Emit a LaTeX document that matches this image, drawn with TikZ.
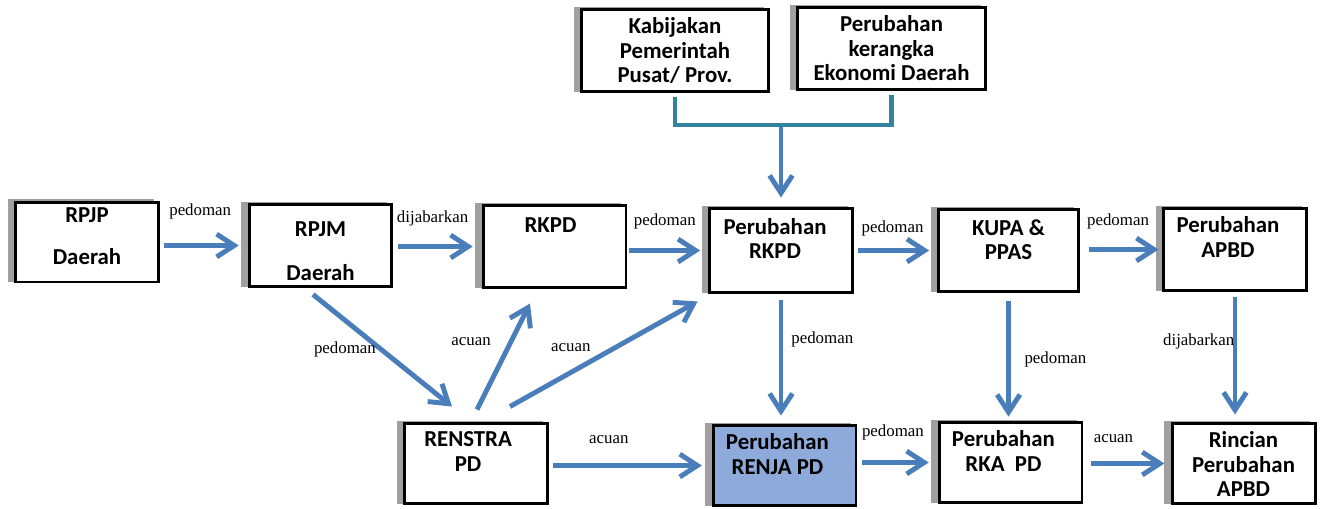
\documentclass[tikz,border=0pt]{standalone}
\usepackage{fontspec}
\setmainfont{Liberation Serif}
\newfontfamily\boxfont{Carlito}
\usetikzlibrary{arrows.meta}
\usetikzlibrary{positioning}
\usetikzlibrary{calc}
\usetikzlibrary{shadows}

\definecolor{arrowblue}{RGB}{74,126,187}
\definecolor{bracketteal}{RGB}{49,132,155}
\definecolor{renjafill}{RGB}{142,170,219}
\definecolor{bargray}{RGB}{160,160,160}

\tikzset{
  box/.style={draw, line width=1.7pt, fill=white, inner sep=0pt,
    minimum width=2.86cm, minimum height=1.64cm,
    drop shadow={shadow xshift=-3.6pt, shadow yshift=0.6pt, fill=bargray, draw=bargray, opacity=1}},
  txt/.style={anchor=north, yshift=-5.4pt, inner sep=0pt, align=center,
    font=\boxfont\bfseries\fontsize{13}{13.8}\selectfont},
  lbl/.style={inner sep=0pt, font=\fontsize{9.6}{11}\selectfont},
  arr/.style={draw=arrowblue, line width=2.8pt, -{Straight Barb[length=10pt,width=13pt]}},
  bracket/.style={draw=bracketteal, line width=2.8pt},
}

\begin{document}
\begin{tikzpicture}[x=0.02cm, y=-0.02cm]
  \useasboundingbox (0,0) rectangle (1324,508);

  % top row
  \node[box, minimum width=3.74cm, label={[txt]north:Kabijakan\\Pemerintah\\Pusat/ Prov.}] (kebijakan) at (675,50.5) {};
  \node[box, minimum width=3.76cm, label={[txt]north:Perubahan\\kerangka\\Ekonomi Daerah}] (kerangka) at (891.5,48.5) {};

  % middle row
  \node[box, minimum height=1.6cm, label={[txt, yshift=1.8pt]north:RPJP\\[10.5pt]Daerah}] (rpjp) at (87,242) {};
  \node[box, label={[txt, yshift=-5pt]north:RPJM\\[11.2pt]Daerah}] (rpjm) at (320.5,245.5) {};
  \node[box, label={[txt, yshift=-2pt, xshift=-2.3pt]north:RKPD}] (rkpd) at (554.5,246.5) {};
  \node[box, minimum height=1.68cm, label={[txt, yshift=-0.8pt, xshift=-3.4pt]north:Perubahan\\RKPD}] (prkpd) at (781,250.5) {};
  \node[box, minimum width=2.8cm, label={[txt, yshift=-0.8pt]north:KUPA \&\\PPAS}] (kupa) at (1008.5,250.5) {};
  \node[box, label={[txt, xshift=-4pt]north:Perubahan\\APBD}] (papbd) at (1235,249.5) {};

  % bottom row
  \node[box, minimum height=1.6cm, label={[txt, xshift=-4.5pt]north:RENSTRA\\PD}] (renstra) at (476,463.5) {};
  \node[box, minimum height=1.6cm, fill=renjafill, label={[txt, xshift=-4pt]north:Perubahan\\RENJA PD}] (renja) at (784.5,465.5) {};
  \node[box, minimum height=1.6cm, label={[txt, xshift=-4pt]north:Perubahan\\RKA~ PD}] (rka) at (1010.5,462.5) {};
  \node[box, minimum height=1.6cm, label={[txt]north:Rincian\\Perubahan\\APBD}] (rincian) at (1243.5,463.5) {};

  % bracket from the two top boxes
  \coordinate (merge) at (prkpd.north |- 0,125);
  \draw[bracket] ([yshift=-2.5pt]kebijakan.south) |- (merge) -| ([yshift=-2.5pt]kerangka.south);
  \draw[arr, shorten <=1.4pt, shorten >=5.4pt] (merge) -- (prkpd.north);

  % horizontal arrows
  \draw[arr, shorten <=2.5pt, shorten >=5pt] (rpjp.east |- rpjm.west) -- (rpjm.west)
    node[lbl, midway, xshift=-2pt, yshift=19.3pt] {pedoman};
  \draw[arr, shorten <=2.5pt, shorten >=5pt] (rpjm.east |- rkpd.west) -- (rkpd.west)
    node[lbl, midway, xshift=-2.8pt, yshift=15.9pt] {dijabarkan};
  \draw[arr, shorten <=1pt, shorten >=4.5pt] (rkpd.east |- prkpd.west) -- (prkpd.west)
    node[lbl, midway, xshift=-1.7pt, yshift=16.4pt] {pedoman};
  \draw[arr, shorten <=2.5pt, shorten >=4.5pt] (prkpd.east |- kupa.west) -- (kupa.west)
    node[lbl, midway, xshift=-1.7pt, yshift=12.5pt] {pedoman};
  \draw[arr, shorten <=5pt, shorten >=2pt] (kupa.east |- papbd.west) -- (papbd.west)
    node[lbl, midway, xshift=-1.7pt, yshift=15.9pt] {pedoman};
  \draw[arr, shorten <=2.5pt, shorten >=5.5pt] (renstra.east |- renja.west) -- (renja.west)
    node[lbl, midway, xshift=-12.2pt, yshift=14.5pt] {acuan};
  \draw[arr, shorten <=2.5pt, shorten >=5pt] (renja.east |- rka.west) -- (rka.west)
    node[lbl, midway, xshift=-2.6pt, yshift=17.3pt] {pedoman};
  \draw[arr, shorten <=4.5pt, shorten >=3.5pt] (rka.east |- rincian.west) -- (rincian.west)
    node[lbl, midway, xshift=-7.7pt, yshift=13.9pt] {acuan};

  % vertical arrows
  \draw[arr, shorten <=3.4pt, shorten >=4.8pt] (prkpd.south) -- (prkpd.south |- renja.north)
    node[lbl, pos=0.35, anchor=west, xshift=4.5pt] {pedoman};
  \draw[arr, shorten <=4.8pt, shorten >=2.5pt] (kupa.south) -- (kupa.south |- rka.north)
    node[lbl, pos=0.52, anchor=west, xshift=7.7pt] {pedoman};
  \draw[arr, shorten <=3.1pt, shorten >=4.3pt] (papbd.south) -- (papbd.south |- rincian.north)
    node[lbl, pos=0.38, anchor=east, xshift=1pt] {dijabarkan};

  % diagonal arrows
  \draw[arr] ($(rpjm.south)+(-7.5,6.5)$) -- ($(renstra.north)+(-24,-15.5)$)
    node[lbl, pos=0.23, yshift=-16.7pt] {pedoman};
  \draw[arr] ($(renstra.north)+(1,-12.5)$) -- ($(rkpd.south)+(-24.5,14.5)$)
    node[lbl, pos=0.64, xshift=-22.7pt] {acuan};
  \draw[arr] ($(renstra.north)+(34,-15.5)$) -- ($(prkpd.south west)+(-10.5,7.5)$)
    node[lbl, pos=0.324, yshift=14.2pt] {acuan};
\end{tikzpicture}
\end{document}
